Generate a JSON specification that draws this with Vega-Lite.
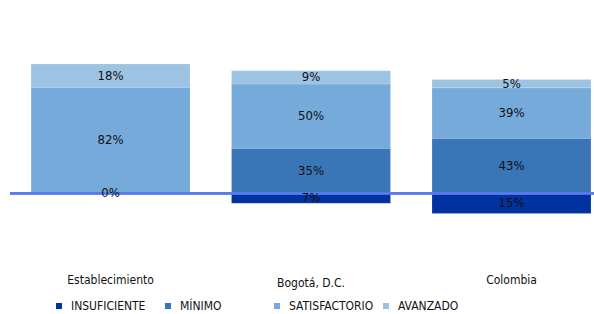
{
  "$schema": "https://vega.github.io/schema/vega-lite/v6.json",
  "width": 584,
  "height": 155.2,
  "autosize": {"type": "none"},
  "padding": {"left": 10, "top": 64, "right": 0, "bottom": 94.8},
  "background": "white",
  "config": {"view": {"stroke": null}, "font": "DejaVu Sans Condensed, sans-serif"},
  "data": {
    "values": [
      {"grupo": "Establecimiento", "nivel": "INSUFICIENTE", "orden": 1, "v": 0, "label": "0%"},
      {"grupo": "Establecimiento", "nivel": "MÍNIMO", "orden": 2, "v": 0, "label": ""},
      {"grupo": "Establecimiento", "nivel": "SATISFACTORIO", "orden": 3, "v": 82, "label": "82%"},
      {"grupo": "Establecimiento", "nivel": "AVANZADO", "orden": 4, "v": 18, "label": "18%"},
      {"grupo": "Bogotá, D.C.", "nivel": "INSUFICIENTE", "orden": 1, "v": -7.7, "label": "7%"},
      {"grupo": "Bogotá, D.C.", "nivel": "MÍNIMO", "orden": 2, "v": 34.8, "label": "35%"},
      {"grupo": "Bogotá, D.C.", "nivel": "SATISFACTORIO", "orden": 3, "v": 49.7, "label": "50%"},
      {"grupo": "Bogotá, D.C.", "nivel": "AVANZADO", "orden": 4, "v": 10.3, "label": "9%"},
      {"grupo": "Colombia", "nivel": "INSUFICIENTE", "orden": 1, "v": -15.5, "label": "15%"},
      {"grupo": "Colombia", "nivel": "MÍNIMO", "orden": 2, "v": 42.5, "label": "43%"},
      {"grupo": "Colombia", "nivel": "SATISFACTORIO", "orden": 3, "v": 39.1, "label": "39%"},
      {"grupo": "Colombia", "nivel": "AVANZADO", "orden": 4, "v": 6.5, "label": "5%"}
    ]
  },
  "transform": [
    {"stack": "v", "groupby": ["grupo"], "sort": [{"field": "orden"}], "as": ["y0", "y1"]},
    {"calculate": "(datum.y0 + datum.y1) / 2", "as": "ymid"}
  ],
  "encoding": {
    "x": {
      "field": "grupo", "type": "nominal", "sort": ["Establecimiento", "Bogotá, D.C.", "Colombia"],
      "scale": {"paddingInner": 0.207, "paddingOuter": 0.06, "align": 0.875},
      "axis": {"title": null, "domain": false, "ticks": false, "labelAngle": 0, "labelFontSize": 12, "labelColor": "#111",
        "labelPadding": {"condition": {"test": "datum.value == 'Bogotá, D.C.'", "value": 58}, "value": 55}}
    }
  },
  "layer": [
    {
      "mark": {"type": "bar", "stroke": "white", "strokeWidth": 0.3, "strokeOpacity": 0.5},
      "encoding": {
        "y": {"field": "y0", "type": "quantitative", "scale": {"domain": [-20, 100], "nice": false, "zero": false}, "axis": null},
        "y2": {"field": "y1"},
        "color": {
          "field": "nivel", "type": "nominal",
          "scale": {"domain": ["INSUFICIENTE", "MÍNIMO", "SATISFACTORIO", "AVANZADO"], "range": ["#0033A0", "#3A75B8", "#76AADA", "#9DC3E3"]},
          "legend": {"title": null, "orient": "none", "legendX": 43, "legendY": 236, "direction": "horizontal", "symbolType": "square", "symbolSize": 36, "symbolStrokeWidth": 0, "labelFontSize": 12, "labelColor": "#111", "gridAlign": "all", "columnPadding": 6, "labelOffset": 6, "padding": 0}
        }
      }
    },
    {
      "mark": {"type": "rule", "color": "#5a7cf0", "strokeWidth": 1.6, "opacity": 0.7},
      "encoding": {"y": {"datum": 0, "type": "quantitative"}, "x": null}
    },
    {
      "mark": {"type": "text", "fontSize": 13, "color": "#111", "baseline": "middle"},
      "encoding": {
        "y": {"field": "ymid", "type": "quantitative"},
        "text": {"field": "label"}
      }
    }
  ]
}
